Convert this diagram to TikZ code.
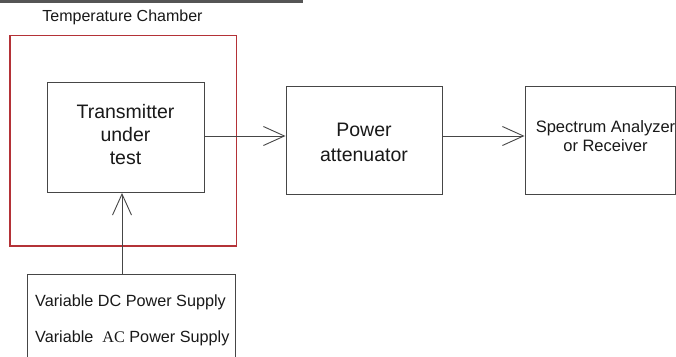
\documentclass[tikz,border=0pt]{standalone}
\usepackage{fontspec}
\setmainfont{Liberation Sans}
\newfontfamily\acfont{Liberation Serif}
\usetikzlibrary{arrows.meta}
\definecolor{boxline}{RGB}{70,70,70}
\definecolor{chamber}{RGB}{180,50,55}
\definecolor{txt}{RGB}{25,25,25}
\definecolor{topbar}{RGB}{85,85,85}
\begin{document}
\begin{tikzpicture}[x=1pt,y=1pt,
  blockbox/.style={draw=boxline, line width=1pt, inner sep=0pt, align=center, text=txt},
  conn/.style={draw=boxline, line width=0.9pt, -{Straight Barb[length=21pt,width=19pt,line width=0.9pt]}},
  lbl/.style={inner sep=0pt, text=txt}]
\useasboundingbox (0,0) rectangle (676,356);
\fill[white] (0,0) rectangle (676,356);
% top bar
\coordinate (barL) at (0,354.5);
\coordinate (barR) at (303,354.5);
\draw[topbar, line width=3pt] (barL) -- (barR);
% chamber
\node[lbl, font=\fontsize{16}{19}\selectfont] (chlabel) at (122.5,339) {Temperature Chamber};
\node[draw=chamber, line width=1.5pt, minimum width=226.5pt, minimum height=210.5pt, inner sep=0pt] (chamberbox) at (123.25,215.25) {};
% transmitter
\node[blockbox, minimum width=157pt, minimum height=110pt] (tx) at (125.5,218) {};
\node[lbl, align=center, font=\fontsize{19.5}{23}\selectfont] (txlabel) at (125.5,221) {Transmitter\\under\\test};
% power attenuator
\node[blockbox, minimum width=156pt, minimum height=108pt] (pa) at (364,215) {};
\node[lbl, align=center, font=\fontsize{19.5}{25}\selectfont] (palabel) at (364,213.5) {Power\\attenuator};
% spectrum analyzer
\node[blockbox, minimum width=150pt, minimum height=108pt] (sa) at (600,215) {};
\node[lbl, align=center, font=\fontsize{16.5}{18.5}\selectfont] (salabel) at (605.5,220) {Spectrum Analyzer\\or Receiver};
% power supply (open at bottom)
\coordinate (psBL) at (27,-5);
\coordinate (psTL) at (27,82);
\coordinate (psTR) at (235,82);
\coordinate (psBR) at (235,-5);
\draw[boxline, line width=1pt] (psBL) -- (psTL) -- (psTR) -- (psBR);
\node[lbl, font=\fontsize{16.2}{19}\selectfont, anchor=west] (dc) at (35,54) {Variable DC Power Supply};
\node[lbl, font=\fontsize{16.2}{19}\selectfont, anchor=west] (ac) at (35,18) {Variable\ \ {\acfont AC} Power Supply};
% connectors
\coordinate (a1s) at (tx.east |- 0,220);
\coordinate (a1e) at (pa.west |- 0,220);
\coordinate (a2s) at (pa.east |- 0,220);
\coordinate (a2e) at (sa.west |- 0,220);
\coordinate (a3s) at (122,82);
\coordinate (a3e) at (122,163);
\draw[conn] (a1s) -- (a1e);
\draw[conn] (a2s) -- (a2e);
\draw[conn] (a3s) -- (a3e);
\end{tikzpicture}
\end{document}
